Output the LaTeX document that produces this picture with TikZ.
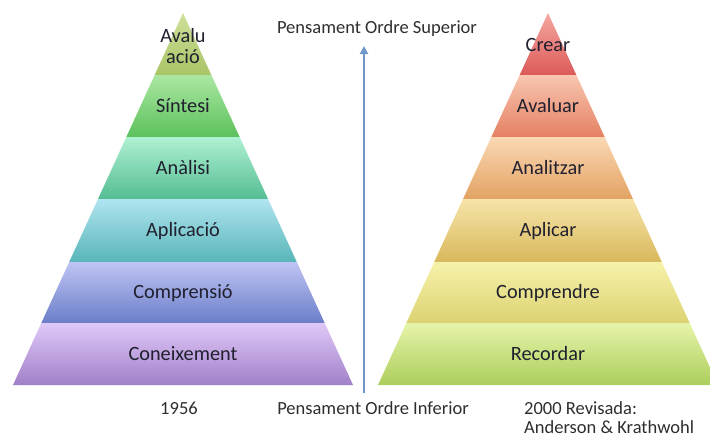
\documentclass[tikz,border=0pt]{standalone}
\usepackage{fontspec}
\setmainfont{Carlito}
\usetikzlibrary{arrows.meta}
\newcommand\pyrband[5]{%
  \definecolor{bandtop}{HTML}{#4}\definecolor{bandbot}{HTML}{#5}%
  \shade[top color=bandtop,bottom color=bandbot]
    ({#1-0.457*(#2-13)},#2) -- ({#1+0.457*(#2-13)},#2) --
    ({#1+0.457*(#3-13)},#3) -- ({#1-0.457*(#3-13)},#3) -- cycle;}
\definecolor{txt}{HTML}{20202E}
\definecolor{side}{HTML}{2E2E2E}
\definecolor{arrowc}{HTML}{7096C8}
\tikzset{
  lbl/.style={text=txt,font=\fontsize{20.3}{20}\selectfont,inner sep=0pt,align=center},
  sidetxt/.style={text=side,font=\fontsize{18.5}{20}\selectfont,inner sep=0pt},
}
\begin{document}
\begin{tikzpicture}[x=1pt,y=-1pt]
\useasboundingbox (0,0) rectangle (710,439);
\clip (0,0) rectangle (710,439);
% left pyramid (1956)
\pyrband{183}{13}{75}{CFE09A}{A9C467}
\pyrband{183}{75}{137}{ABE7A2}{5CC15C}
\pyrband{183}{137}{199}{AEF0D2}{55BD93}
\pyrband{183}{199}{262}{B0E4F0}{58B6B8}
\pyrband{183}{262}{323}{C0C4F4}{6A7EC8}
\pyrband{183}{323}{385}{E0C8F8}{A080C8}
% right pyramid (2000)
\pyrband{548}{13}{75}{F4A8A0}{DC5A58}
\pyrband{548}{75}{137}{F8C6B0}{E58062}
\pyrband{548}{137}{199}{FAD8B4}{E3A263}
\pyrband{548}{199}{262}{F6E4A8}{D8B85C}
\pyrband{548}{262}{323}{F6F2AA}{DCD272}
\pyrband{548}{323}{385}{E6F4AA}{ACCE5C}
% labels left
\node[lbl] (aval) at (183,46) {Avalu\\[1pt]ació};
\node[lbl] (sint) at (183,106) {Síntesi};
\node[lbl] (anal) at (183,168) {Anàlisi};
\node[lbl] (apli) at (183,231) {Aplicació};
\node[lbl] (comp) at (183,293) {Comprensió};
\node[lbl] (cone) at (183,354) {Coneixement};
% labels right
\node[lbl] (crea) at (548,45) {Crear};
\node[lbl] (avar) at (548,106) {Avaluar};
\node[lbl] (anar) at (548,168) {Analitzar};
\node[lbl] (apar) at (548,231) {Aplicar};
\node[lbl] (copr) at (548,293) {Comprendre};
\node[lbl] (reco) at (548,354) {Recordar};
% arrow
\coordinate (abot) at (364,393);
\coordinate (atop) at (364,46);
\draw[arrowc,line width=2.2pt,-{Triangle[length=8pt,width=8pt]}] (abot) -- (atop);
% side texts
\node[sidetxt] (sup) at (377,29) {Pensament Ordre Superior};
\node[sidetxt] (inf) at (373,408) {Pensament Ordre Inferior};
\node[sidetxt] (y56) at (179,408) {1956};
\node[sidetxt,anchor=west] (rev) at (524,408) {2000 Revisada:};
\node[sidetxt,anchor=west] (ak) at (524,427) {Anderson \& Krathwohl};
\end{tikzpicture}
\end{document}
